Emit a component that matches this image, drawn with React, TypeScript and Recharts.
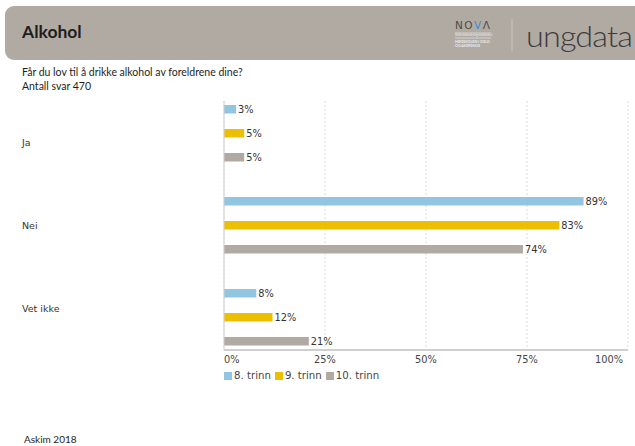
import React from "react";
import {
  BarChart,
  Bar,
  XAxis,
  YAxis,
  CartesianGrid,
  LabelList,
  Legend,
} from "recharts";

const categories = ["Ja", "Nei", "Vet ikke"];
const trinn8 = [3, 89, 8];
const trinn9 = [5, 83, 12];
const trinn10 = [5, 74, 21];
const seriesNames = ["8. trinn", "9. trinn", "10. trinn"];
const xTicks = [0, 25, 50, 75, 100];

const colors = ["#92c5e1", "#ecc000", "#b1aaa3"];
const chartFont = "'DejaVu Sans', Verdana, sans-serif";
const textFont = "Lato, 'Open Sans', sans-serif";

const data = categories.map((name, i) => ({
  name,
  t8: trinn8[i],
  t9: trinn9[i],
  t10: trinn10[i],
}));

const XTick = (props: any) => {
  const { x, y, payload } = props;
  const v = payload.value;
  const anchor =
    v === xTicks[0] ? "start" : v === xTicks[xTicks.length - 1] ? "end" : "middle";
  return (
    <text x={x} y={y} dy={11} textAnchor={anchor} fontSize={9.8} fill="#444" fontFamily={chartFont}>
      {v}%
    </text>
  );
};

const CatTick = (props: any) => {
  const { y, payload } = props;
  return (
    <text x={22} y={y} dy="0.35em" fontSize={9.5} fill="#333" fontFamily={chartFont}>
      {payload.value}
    </text>
  );
};

const LegendContent = (props: any) => {
  const items = props.payload || [];
  return (
    <div style={{ display: "flex", fontFamily: chartFont, fontSize: 10.2, lineHeight: "12px", color: "#444" }}>
      {items.map((it: any) => (
        <div key={it.value} style={{ display: "flex", alignItems: "center", marginRight: 4 }}>
          <span
            style={{ width: 8, height: 8, background: it.color, display: "inline-block", marginRight: 2 }}
          />
          <span>{it.value}</span>
        </div>
      ))}
    </div>
  );
};

export default function App() {
  return (
    <div
      style={{
        position: "absolute",
        left: 0,
        top: 0,
        width: 635,
        height: 446,
        background: "#fff",
        overflow: "hidden",
      }}
    >
      {/* header band */}
      <div
        style={{
          position: "absolute",
          left: 5,
          top: 6,
          width: 660,
          height: 54,
          borderRadius: 9,
          background: "#b1aaa3",
        }}
      >
        <div
          style={{
            position: "absolute",
            left: 17,
            top: 15,
            fontFamily: textFont,
            fontWeight: 700,
            fontSize: 17.5,
            color: "#1e1e1e",
          }}
        >
          Alkohol
        </div>
        <svg style={{ position: "absolute", left: 440, top: 0 }} width={190} height={54}>
          <text x={10} y={23} fontFamily="'DejaVu Sans', sans-serif" fontSize={10.5} letterSpacing={1.5} fill="#4a4a4a">
            NO<tspan fill="#3b8fd2">V</tspan>Λ
          </text>
          <line x1={10} x2={46} y1={27} y2={27} stroke="#eee" strokeWidth={0.6} />
          <text x={10} y={30} fontSize={3} fill="#eee" fontFamily={textFont}>
            Velferdsforskningsinstituttet
          </text>
          <line x1={10} x2={46} y1={32} y2={32} stroke="#eee" strokeWidth={0.6} />
          <text x={10} y={37} fontSize={3.6} fill="#eee" fontFamily={textFont} fontWeight={700}>
            HØGSKOLEN I OSLO
          </text>
          <text x={10} y={41} fontSize={3.6} fill="#eee" fontFamily={textFont} fontWeight={700}>
            OG AKERSHUS
          </text>
          <line x1={67} x2={67} y1={13} y2={45} stroke="#c9c4be" strokeWidth={1} />
          <text
            x={81}
            y={41}
            fontSize={30}
            fontWeight={300}
            letterSpacing={-0.8}
            fill="#3c3c3c"
            fontFamily={textFont}
            textLength={106}
            lengthAdjust="spacingAndGlyphs"
          >
            ungdata
          </text>
        </svg>
      </div>

      <div
        style={{
          position: "absolute",
          left: 22,
          top: 65,
          fontFamily: textFont,
          fontSize: 10.5,
          lineHeight: "14px",
          color: "#1e1e1e",
        }}
      >
        <div>Får du lov til å drikke alkohol av foreldrene dine?</div>
        <div>Antall svar 470</div>
      </div>

      <div style={{ position: "absolute", left: 0, top: 0 }}>
        <BarChart
          width={635}
          height={446}
          data={data}
          layout="vertical"
          barGap={15.5}
          margin={{ top: 101, right: 7, bottom: 64, left: 0 }}
        >
          <CartesianGrid horizontal={false} stroke="#dcdcdc" strokeDasharray="2 2" />
          <XAxis
            type="number"
            domain={[0, 100]}
            ticks={xTicks}
            tick={<XTick />}
            tickLine={false}
            tickSize={0}
            tickMargin={2}
            axisLine={{ stroke: "#cfcfcf", strokeWidth: 2 }}
            height={20}
          />
          <XAxis
            xAxisId="top"
            orientation="top"
            type="number"
            domain={[0, 100]}
            tick={false}
            tickLine={false}
            axisLine={{ stroke: "#d8d8d8" }}
            height={0}
          />
          <YAxis
            type="category"
            dataKey="name"
            tick={<CatTick />}
            tickLine={false}
            axisLine={{ stroke: "#cfcfcf" }}
            width={224}
          />
          <YAxis
            yAxisId="bar"
            type="category"
            dataKey="name"
            hide
            padding={{ top: -14, bottom: -13 }}
          />
          <YAxis
            yAxisId="right"
            orientation="right"
            type="category"
            dataKey="name"
            tick={false}
            tickLine={false}
            axisLine={{ stroke: "#d8d8d8" }}
            width={0}
          />
          {(["t8", "t9", "t10"] as const).map((key, i) => (
            <Bar
              key={key}
              dataKey={key}
              name={seriesNames[i]}
              yAxisId="bar"
              fill={colors[i]}
              barSize={8.5}
              isAnimationActive={false}
            >
              <LabelList
                dataKey={key}
                position="right"
                offset={2}
                formatter={(v: any) => `${v}%`}
                fontSize={9.8}
                fill="#333"
                fontFamily={chartFont}
              />
            </Bar>
          ))}
          <Legend
            content={<LegendContent />}
            itemSorter={(item: any) => seriesNames.indexOf(item.value)}
            wrapperStyle={{ position: "absolute", left: 224, top: 370, width: 300 }}
          />
        </BarChart>
      </div>

      <div
        style={{
          position: "absolute",
          left: 24,
          top: 433,
          fontFamily: textFont,
          fontSize: 10,
          color: "#1e1e1e",
        }}
      >
        Askim 2018
      </div>
    </div>
  );
}
